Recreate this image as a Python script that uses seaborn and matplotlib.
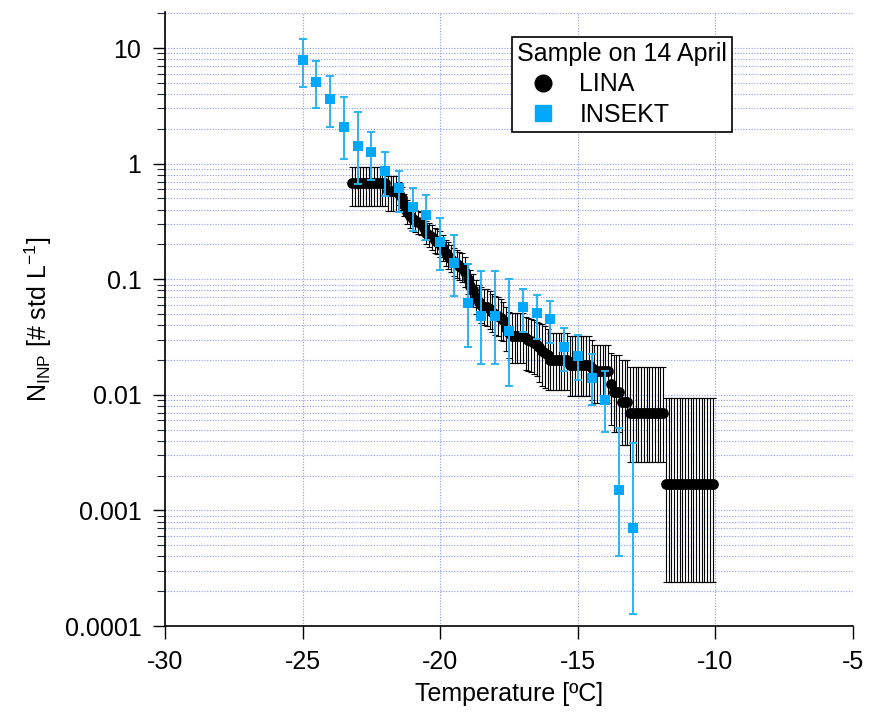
import numpy as np
import pandas as pd
import seaborn as sns
import matplotlib.pyplot as plt
from matplotlib.lines import Line2D
from matplotlib.ticker import FixedLocator, FixedFormatter, NullFormatter

# LINA: 0.1 degC steps
lina_temp = [
    -23.2, -23.1, -23.0, -22.9, -22.8, -22.7, -22.6, -22.5, -22.4, -22.3,
    -22.2, -22.1, -22.0, -21.9, -21.8, -21.7, -21.6, -21.5, -21.4, -21.3,
    -21.2, -21.1, -21.0, -20.9, -20.8, -20.7, -20.6, -20.5, -20.4, -20.3,
    -20.2, -20.1, -20.0, -19.9, -19.8, -19.7, -19.6, -19.5, -19.4, -19.3,
    -19.2, -19.1, -19.0, -18.9, -18.8, -18.7, -18.6, -18.5, -18.4, -18.3,
    -18.2, -18.1, -18.0, -17.9, -17.8, -17.7, -17.6, -17.5, -17.4, -17.3,
    -17.2, -17.1, -17.0, -16.9, -16.8, -16.7, -16.6, -16.5, -16.4, -16.3,
    -16.2, -16.1, -16.0, -15.9, -15.8, -15.7, -15.6, -15.5, -15.4, -15.3,
    -15.2, -15.1, -15.0, -14.9, -14.8, -14.7, -14.6, -14.5, -14.4, -14.3,
    -14.2, -14.1, -14.0, -13.9, -13.8, -13.7, -13.6, -13.5, -13.4, -13.3,
    -13.2, -13.1, -13.0, -12.9, -12.8, -12.7, -12.6, -12.5, -12.4, -12.3,
    -12.2, -12.1, -12.0, -11.9, -11.8, -11.7, -11.6, -11.5, -11.4, -11.3,
    -11.2, -11.1, -11.0, -10.9, -10.8, -10.7, -10.6, -10.5, -10.4, -10.3,
    -10.2, -10.1,
]
lina_conc = (
    [0.68] * 13 + [0.58] * 4
    + [0.55, 0.50, 0.44, 0.38, 0.35, 0.33, 0.32, 0.31, 0.30, 0.28,
       0.25, 0.24, 0.23, 0.22, 0.21, 0.20, 0.185, 0.17, 0.16, 0.15,
       0.14, 0.135, 0.13, 0.125, 0.115, 0.10, 0.088, 0.08, 0.07, 0.063,
       0.06, 0.058, 0.057, 0.055, 0.052, 0.05, 0.048, 0.046, 0.044, 0.038,
       0.034]
    + [0.032] * 5
    + [0.031, 0.030, 0.029, 0.028, 0.027, 0.026, 0.024, 0.023, 0.022]
    + [0.020] * 7 + [0.018] * 8 + [0.017] + [0.016] * 6
    + [0.0125] + [0.0106] * 3 + [0.0087] * 3 + [0.0070] * 13 + [0.0017] * 18
)
lina_lo = (
    [0.43] * 13 + [0.39] * 4
    + [0.44, 0.40, 0.35, 0.30, 0.28, 0.26, 0.255, 0.245, 0.24, 0.22,
       0.20, 0.19, 0.18, 0.17, 0.165, 0.155, 0.143, 0.13, 0.123, 0.115,
       0.107, 0.103, 0.098, 0.094, 0.086, 0.074, 0.065, 0.058, 0.05, 0.045,
       0.042, 0.040, 0.039, 0.037, 0.035, 0.033, 0.032, 0.030, 0.029, 0.024,
       0.021]
    + [0.019] * 5
    + [0.0165, 0.016, 0.0156, 0.015, 0.0145, 0.013, 0.012, 0.0115, 0.011]
    + [0.011] * 7 + [0.0097] * 8 + [0.009] + [0.0085] * 6
    + [0.0055] + [0.0048] * 3 + [0.0037] * 3 + [0.0026] * 13 + [0.00024] * 18
)
lina_hi = (
    [0.93] * 13 + [0.78] * 4
    + [0.69, 0.63, 0.55, 0.48, 0.44, 0.42, 0.40, 0.39, 0.38, 0.355,
       0.32, 0.305, 0.295, 0.28, 0.27, 0.26, 0.24, 0.22, 0.21, 0.197,
       0.185, 0.18, 0.173, 0.167, 0.155, 0.136, 0.121, 0.111, 0.098, 0.089,
       0.085, 0.083, 0.082, 0.079, 0.075, 0.072, 0.07, 0.067, 0.064, 0.057,
       0.052]
    + [0.051] * 5
    + [0.047, 0.046, 0.045, 0.044, 0.043, 0.042, 0.041, 0.039, 0.037]
    + [0.034] * 7 + [0.032] * 8 + [0.030] + [0.027] * 6
    + [0.023] + [0.022] * 3 + [0.020] * 3 + [0.0175] * 13 + [0.0094] * 18
)

# INSEKT: 0.5 degC steps
insekt_temp = [-25.0, -24.5, -24.0, -23.5, -23.0, -22.5, -22.0, -21.5, -21.0,
               -20.5, -20.0, -19.5, -19.0, -18.5, -18.0, -17.5, -17.0, -16.5,
               -16.0, -15.5, -15.0, -14.5, -14.0, -13.5, -13.0]
insekt_conc = [7.9, 5.05, 3.6, 2.08, 1.41, 1.26, 0.87, 0.61, 0.42, 0.36, 0.21,
               0.137, 0.062, 0.048, 0.048, 0.036, 0.058, 0.0506, 0.0455, 0.026,
               0.0218, 0.014, 0.0091, 0.00149, 0.0007]
insekt_lo = [4.6, 3.0, 2.08, 1.09, 0.67, 0.72, 0.52, 0.38, 0.26, 0.22, 0.12,
             0.072, 0.026, 0.0186, 0.0186, 0.012, 0.035, 0.0305, 0.028, 0.016,
             0.0135, 0.0082, 0.0048, 0.0004, 0.000126]
insekt_hi = [11.9, 7.8, 5.75, 3.74, 2.81, 1.89, 1.25, 0.87, 0.62, 0.54, 0.34,
             0.24, 0.136, 0.118, 0.118, 0.10, 0.083, 0.073, 0.065, 0.038,
             0.033, 0.0226, 0.016, 0.0052, 0.0038]

ytick_vals = [0.0001, 0.001, 0.01, 0.1, 1, 10]
ytick_labels = ["0.0001", "0.001", "0.01", "0.1", "1", "10"]
xtick_vals = [-30, -25, -20, -15, -10, -5]

blue = "#00A9FF"
blue_bar = "#2BB3F3"
grid_col = "#8C9AF2"

sns.set_style("ticks")
plt.rcParams["font.family"] = ["Liberation Sans", "DejaVu Sans"]
plt.rcParams["mathtext.fontset"] = "custom"
plt.rcParams["mathtext.rm"] = "Liberation Sans"
plt.rcParams["mathtext.it"] = "Liberation Sans"
plt.rcParams["axes.unicode_minus"] = False
plt.rcParams["font.size"] = 18
plt.rcParams["text.color"] = "black"
plt.rcParams["axes.labelcolor"] = "black"

df_lina = pd.DataFrame({"temp": lina_temp, "conc": lina_conc,
                        "lo": lina_lo, "hi": lina_hi})
df_ins = pd.DataFrame({"temp": insekt_temp, "conc": insekt_conc,
                       "lo": insekt_lo, "hi": insekt_hi})

fig = plt.figure(figsize=(8.71, 7.13), dpi=100)
ax = fig.add_axes([165 / 871, 1 - 626 / 713, 688 / 871, 614 / 713])
ax.set_yscale("log")

# LINA error bars + points
ax.errorbar(df_lina["temp"], df_lina["conc"],
            yerr=[df_lina["conc"] - df_lina["lo"], df_lina["hi"] - df_lina["conc"]],
            fmt="none", ecolor="black", elinewidth=0.8, capsize=2.5,
            capthick=0.8, zorder=2)
sns.scatterplot(data=df_lina, x="temp", y="conc", ax=ax, marker="o",
                color="black", s=60, linewidth=0, zorder=3, legend=False)

# INSEKT error bars + points
ax.errorbar(df_ins["temp"], df_ins["conc"],
            yerr=[df_ins["conc"] - df_ins["lo"], df_ins["hi"] - df_ins["conc"]],
            fmt="none", ecolor=blue_bar, elinewidth=1.4, capsize=3,
            capthick=1.4, zorder=4)
sns.scatterplot(data=df_ins, x="temp", y="conc", ax=ax, marker="s",
                color=blue, s=45, linewidth=0, zorder=5, legend=False)

ax.set_xlim(-30, -5)
ax.set_ylim(1e-4, 20.5)
ax.xaxis.set_major_locator(FixedLocator(xtick_vals))
ax.yaxis.set_major_locator(FixedLocator(ytick_vals))
ax.yaxis.set_major_formatter(FixedFormatter(ytick_labels))
minor = [m * 10.0 ** e for e in range(-4, 2) for m in range(2, 10)]
ax.yaxis.set_minor_locator(FixedLocator([v for v in minor if v <= 20.5]))
ax.yaxis.set_minor_formatter(NullFormatter())

ax.grid(True, which="major", axis="x", color=grid_col, linestyle=(0, (1, 1.5)), linewidth=0.8)
ax.grid(True, which="both", axis="y", color=grid_col, linestyle=(0, (1, 1.5)), linewidth=0.8)
ax.set_axisbelow(True)

sns.despine(ax=ax, top=True, right=True)
for sp in ["left", "bottom"]:
    ax.spines[sp].set_linewidth(1.2)
    ax.spines[sp].set_color("black")
ax.tick_params(axis="both", which="major", length=9, width=1.0, pad=8,
               labelsize=18, direction="out", colors="black")
ax.tick_params(axis="y", which="minor", length=6, width=0.8, direction="out")

ax.set_xlabel("Temperature [ºC]", fontsize=18, labelpad=6)
ax.set_ylabel(r"N$_{\mathrm{INP}}$ [# std L$^{\mathrm{-1}}$]", fontsize=18, labelpad=8)

handles = [
    Line2D([], [], marker="o", color="black", linestyle="", markersize=12),
    Line2D([], [], marker="s", color=blue, linestyle="", markersize=11),
]
leg = ax.legend(handles, ["LINA", "INSEKT"], title="Sample on 14 April",
                loc="upper left", bbox_to_anchor=(0.504, 0.959),
                borderaxespad=0, fontsize=18, title_fontsize=18,
                frameon=True, fancybox=False, edgecolor="black",
                framealpha=1, borderpad=0.2, labelspacing=0.25,
                handletextpad=0.4, handlelength=2.1, alignment="left")
leg.get_frame().set_linewidth(1.2)

fig.savefig("out.png", dpi=100)
